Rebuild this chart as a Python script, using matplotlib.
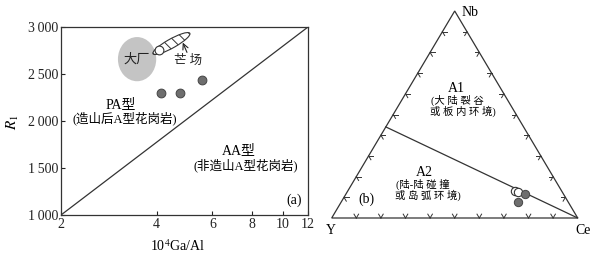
import numpy as np
import matplotlib
matplotlib.use("Agg")
import matplotlib.pyplot as plt
from matplotlib.patches import Ellipse, Polygon

plt.rcParams['font.family'] = ['Liberation Serif', 'Noto Sans CJK SC']
plt.rcParams['mathtext.fontset'] = 'stix'
plt.rcParams['hatch.linewidth'] = 0.7

# ---- Panel (a) data ----
ga_al_filled = [4.12, 4.74, 5.58]
r1_filled = [2300, 2300, 2440]
ga_al_open = [4.07]
r1_open = [2760]
xticks_a = [2, 4, 6, 8, 10, 12]
yticks_a = [1000, 1500, 2000, 2500, 3000]
ytick_labels_a = ["1\u2009000", "1\u2009500", "2\u2009000", "2\u2009500", "3\u2009000"]
boundary_x = [2, 12]
boundary_y = [1000, 3000]

# ---- Panel (b) data (Nb, Ce, Y fractions) ----
tern_open_nb = [0.130, 0.126]
tern_open_ce = [0.680, 0.694]
tern_filled_nb = [0.115, 0.075]
tern_filled_ce = [0.728, 0.718]
divider_nb = [0.44, 0.0]
divider_ce = [0.0, 1.0]

W, H = 593, 257
fig = plt.figure(figsize=(W / 100, H / 100), dpi=100)

def px_axes(l, t, r, b):
    return fig.add_axes([l / W, 1 - b / H, (r - l) / W, (b - t) / H])

ax = px_axes(61, 27, 308, 215)
ax.set_xscale('log')
ax.set_xlim(2, 12)
ax.set_ylim(1000, 3000)
ax.set_xticks(xticks_a)
ax.set_xticklabels([str(v) for v in xticks_a])
ax.xaxis.set_minor_locator(matplotlib.ticker.NullLocator())
ax.set_yticks(yticks_a)
ax.set_yticklabels(ytick_labels_a)
ax.tick_params(direction='in', length=3, width=0.8, labelsize=10, pad=2,
               top=False, right=False, colors='#222222')
for s in ax.spines.values():
    s.set_linewidth(0.9)
    s.set_color('#333333')
ax.plot(boundary_x, boundary_y, color='#333333', lw=0.9)

# Dachang gray ellipse (axes fraction)
ax.add_patch(Ellipse((0.308, 0.829), 0.155, 0.235, transform=ax.transAxes,
                     facecolor='#c4c4c4', edgecolor='none', zorder=1))
ax.text(0.308, 0.825, "大厂", transform=ax.transAxes, ha='center', va='center',
        fontsize=9.5, color='#222222', zorder=3)
# Mangchang hatched ellipse
ax.add_patch(Ellipse((0.447, 0.912), 0.185, 0.045, angle=37, transform=ax.transAxes,
                     facecolor='white', edgecolor='#333333', lw=0.8,
                     hatch='\\\\\\', zorder=2))
ax.annotate("", xy=(0.493, 0.917), xycoords='axes fraction',
            xytext=(0.51, 0.865), textcoords='axes fraction',
            arrowprops=dict(arrowstyle='->', lw=0.8, color='#222222',
                            shrinkA=0, shrinkB=0))
ax.text(0.515, 0.82, "芒 场", transform=ax.transAxes, ha='center', va='center',
        fontsize=9, color='#222222')

ax.scatter(ga_al_filled, r1_filled, s=40, facecolor='#6e6e6e', edgecolor='#444444',
           lw=0.7, zorder=4)
ax.scatter(ga_al_open, r1_open, s=40, facecolor='white', edgecolor='#333333',
           lw=0.8, zorder=5)

ax.text(0.24, 0.59, "PA型", transform=ax.transAxes, ha='center', va='center', fontsize=10)
ax.text(0.26, 0.515, "(造山后A型花岗岩)", transform=ax.transAxes, ha='center', va='center', fontsize=9)
ax.text(0.72, 0.345, "AA型", transform=ax.transAxes, ha='center', va='center', fontsize=10)
ax.text(0.75, 0.265, "(非造山A型花岗岩)", transform=ax.transAxes, ha='center', va='center', fontsize=9)
ax.text(0.945, 0.08, "(a)", transform=ax.transAxes, ha='center', va='center', fontsize=10)

fig.text(178 / W, 1 - 246 / H, "10$^4$Ga/Al", ha='center', va='center', fontsize=10)
fig.text(13 / W, 1 - 122 / H, "$R_1$", ha='center', va='center', fontsize=11, rotation=90)

# ---- Panel (b) ternary ----
BW, BH = 246.0, 207.0
bx = px_axes(331.7, 11, 331.7 + BW, 11 + BH)
bx.set_xlim(0, 1)
bx.set_ylim(0, 1)
bx.axis('off')

def tern(nb, ce):
    nb = np.asarray(nb, float)
    ce = np.asarray(ce, float)
    return ce + nb / 2, nb

bx.add_patch(Polygon([(0, 0), (1, 0), (0.5, 1)], closed=True, fill=False,
                     edgecolor='#333333', lw=0.9, clip_on=False))

def tick(p, dirs):
    for d in dirs:
        d = np.array(d, float)
        d = d / np.hypot(*d) * 4.5
        bx.plot([p[0], p[0] + d[0] / BW], [p[1], p[1] + d[1] / BH],
                color='#333333', lw=0.7, clip_on=False)

for i in range(1, 10):
    t = i / 10
    tick((t, 0.0), [(0.5 * BW, BH), (-0.5 * BW, BH)])
    tick((t / 2, t), [(BW, 0.0), (0.5 * BW, -BH)])
    tick((1 - t / 2, t), [(-BW, 0.0), (-0.5 * BW, -BH)])

dx, dy = tern(divider_nb, divider_ce)
bx.plot(dx, dy, color='#333333', lw=0.9, clip_on=False)

ox, oy = tern(tern_open_nb, tern_open_ce)
bx.scatter(ox, oy, s=36, facecolor='white', edgecolor='#333333', lw=0.8, zorder=4, clip_on=False)
fx, fy = tern(tern_filled_nb, tern_filled_ce)
bx.scatter(fx, fy, s=36, facecolor='#6e6e6e', edgecolor='#444444', lw=0.7, zorder=5, clip_on=False)

fig.text(462 / W, 1 - 12 / H, "Nb", ha='left', va='center', fontsize=10)
fig.text(331 / W, 1 - 230 / H, "Y", ha='center', va='center', fontsize=10)
fig.text(583 / W, 1 - 230 / H, "Ce", ha='center', va='center', fontsize=10)
fig.text(456 / W, 1 - 88 / H, "A1", ha='center', va='center', fontsize=10)
fig.text(457 / W, 1 - 100 / H, "(大 陆 裂 谷", ha='center', va='center', fontsize=7.5)
fig.text(463 / W, 1 - 111 / H, "或 板 内 环 境)", ha='center', va='center', fontsize=7.5)
fig.text(424 / W, 1 - 172 / H, "A2", ha='center', va='center', fontsize=10)
fig.text(423 / W, 1 - 184 / H, "(陆-陆 碰 撞", ha='center', va='center', fontsize=7.5)
fig.text(428 / W, 1 - 195 / H, "或 岛 弧 环 境)", ha='center', va='center', fontsize=7.5)
fig.text(366 / W, 1 - 199 / H, "(b)", ha='center', va='center', fontsize=10)

fig.savefig("out.png", dpi=100)
